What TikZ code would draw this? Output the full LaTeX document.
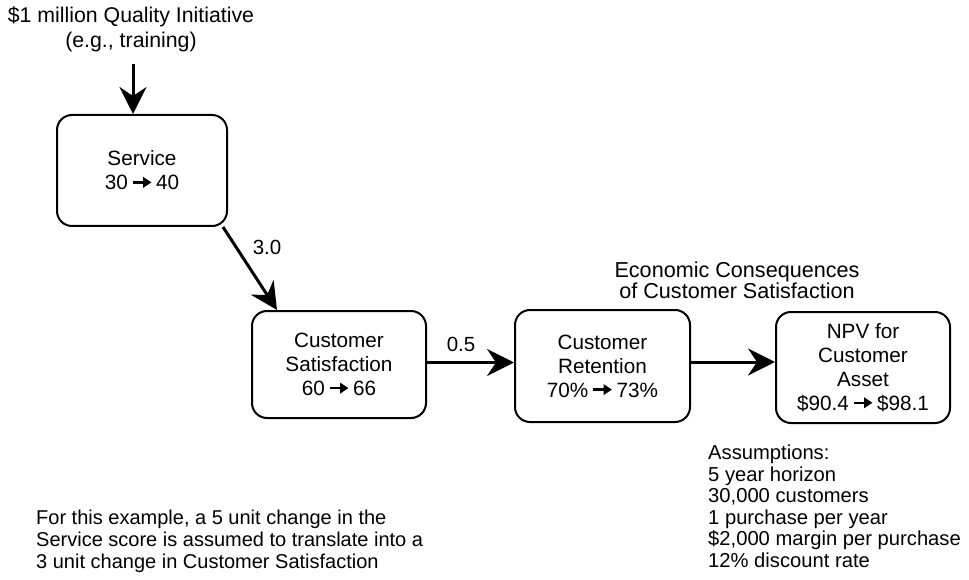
\documentclass[tikz,border=0pt]{standalone}
\usepackage{fontspec}
\setmainfont{Liberation Sans}
\usetikzlibrary{arrows.meta}
% small bold arrow used inside the stage texts
\newcommand{\gives}{\hspace{3.5pt}\tikz[x=1pt,y=1pt,baseline=-7.5pt]
  \draw[line width=2.3pt,-{Triangle[length=8.5pt,width=10.5pt]}] (0,0) -- (19,0);\hspace{3.5pt}}
\tikzset{
  stage/.style={draw, line width=2pt, rounded corners=15pt, align=center,
    inner sep=0pt, font=\fontsize{20.7}{24}\selectfont},
  flow/.style={line width=3pt, -{Stealth[length=27pt,width=27pt,inset=9pt]}},
  txt/.style={inner sep=0pt, font=\fontsize{20.5}{22}\selectfont},
}
\begin{document}
\begin{tikzpicture}[x=1pt,y=-1pt]
\useasboundingbox (0,0) rectangle (969,580);
% initiative and the service stage
\node[txt, align=center, font=\fontsize{21.3}{24.5}\selectfont] (init) at (131,29.5)
  {\$1 million Quality Initiative\\(e.g., training)};
\node[stage, minimum width=170pt, minimum height=111pt] (svc) at (142,170.5)
  {Service\\30\gives 40};
% customer stages
\node[stage, minimum width=174pt, minimum height=107pt] (sat) at (339,364.5)
  {Customer\\Satisfaction\\60\gives 66};
\node[stage, minimum width=175pt, minimum height=112pt] (ret) at (602.5,366)
  {Customer\\Retention\\70\%\gives 73\%};
\node[stage, minimum width=174pt, minimum height=111pt] (npv) at (863,367.5)
  {NPV for\\Customer\\Asset\\\$90.4\gives \$98.1};
% links
\draw[flow] ([xshift=2pt,yshift=-12pt]init.south) -- ([xshift=2pt]init.south |- svc.north);
\draw[flow] ([xshift=-5pt]svc.south east) -- ([xshift=26pt]sat.north west);
\draw[flow] ([yshift=2pt]sat.east) -- ([yshift=2pt]sat.east -| ret.west);
\draw[flow] ([yshift=4pt]ret.east) -- ([yshift=4pt]ret.east -| npv.west);
% link weights
\node[txt] (w1) at (267,247) {3.0};
\node[txt] (w2) at (461,344) {0.5};
% captions
\node[txt, align=center, font=\fontsize{21.6}{20.7}\selectfont] (econ) at (737,280)
  {Economic Consequences\\of Customer Satisfaction};
\node[txt, anchor=west, align=left, font=\fontsize{20.2}{21.5}\selectfont] (assume) at (708,506.5)
  {Assumptions:\\5 year horizon\\30,000 customers\\1 purchase per year\\\$2,000 margin per purchase\\12\% discount rate};
\node[txt, anchor=west, align=left, font=\fontsize{20}{22}\selectfont] (note) at (36,541)
  {For this example, a 5 unit change in the\\Service score is assumed to translate into a\\3 unit change in Customer Satisfaction};
\end{tikzpicture}
\end{document}
